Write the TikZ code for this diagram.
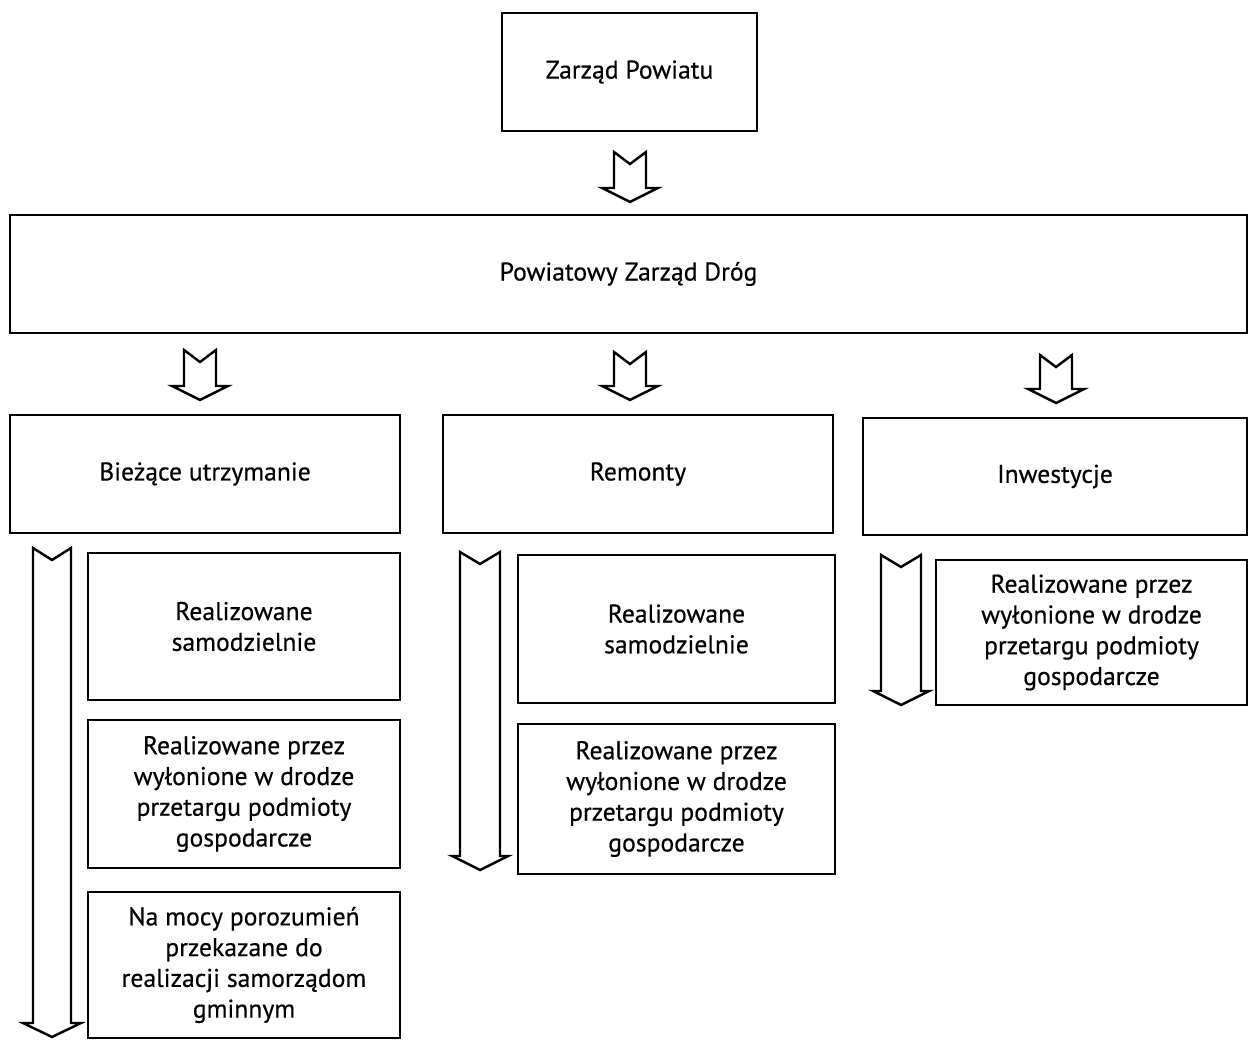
\documentclass[tikz,border=0pt]{standalone}
\usepackage{fontspec}
\setmainfont{PT Sans}
\newfontfamily\boxfont{PT Sans}[FakeBold=0.5]
\usepackage{tikz}
\usetikzlibrary{positioning,calc}

% block arrow: x centre, top, bottom, half shaft, half head
\newcommand{\blockarr}[5]{%
  \draw[blockline] ({#1-#4},#2) -- (#1,{#2+12}) -- ({#1+#4},#2)
    -- ({#1+#4},{#3-14}) -- ({#1+#5},{#3-14}) -- (#1,#3)
    -- ({#1-#5},{#3-14}) -- ({#1-#4},{#3-14}) -- cycle;}

\begin{document}
\begin{tikzpicture}[x=0.02cm, y=-0.02cm,
    box/.style={draw, line width=1pt, align=center, inner sep=2pt,
        font=\boxfont\fontsize{14.6}{17.5}\selectfont},
    blockline/.style={line width=1.4pt, line join=miter, fill=white}]
    \useasboundingbox (0,0) rectangle (1249,1040);

    % top levels
    \node[box, minimum width=5.1cm, minimum height=2.36cm] (zp) at (629.5,72) {Zarząd Powiatu};
    \node[box, minimum width=24.74cm, minimum height=2.36cm] (pzd) at (628.5,274) {Powiatowy Zarząd Dróg};

    % departments
    \node[box, minimum width=7.8cm, minimum height=2.36cm] (bu) at (205,474) {Bieżące utrzymanie};
    \node[box, minimum width=7.8cm, minimum height=2.36cm] (rem) at (638,474) {Remonty};
    \node[box, minimum width=7.68cm, minimum height=2.34cm] (inw) at (1055,476.5) {Inwestycje};

    % ways of doing it
    \node[box, minimum width=6.24cm, minimum height=2.94cm] (bu1) at (244,626.5) {Realizowane\\samodzielnie};
    \node[box, minimum width=6.24cm, minimum height=2.96cm] (bu2) at (244,794) {Realizowane przez\\wyłonione w drodze\\przetargu podmioty\\gospodarcze};
    \node[box, minimum width=6.24cm, minimum height=2.92cm] (bu3) at (244,965) {Na mocy porozumień\\przekazane do\\realizacji samorządom\\gminnym};
    \node[box, minimum width=6.34cm, minimum height=2.96cm] (rem1) at (676.5,629) {Realizowane\\samodzielnie};
    \node[box, minimum width=6.34cm, minimum height=3.0cm] (rem2) at (676.5,799) {Realizowane przez\\wyłonione w drodze\\przetargu podmioty\\gospodarcze};
    \node[box, minimum width=6.22cm, minimum height=2.9cm] (inw1) at (1091.5,632.5) {Realizowane przez\\wyłonione w drodze\\przetargu podmioty\\gospodarcze};

    % short arrows
    \blockarr{630}{152}{202}{16}{28}
    \foreach \xc/\yt/\yb in {200/350/400, 630/352/400, 1056/355/403} {
        \blockarr{\xc}{\yt}{\yb}{16}{28}
    }

    % long arrows
    \blockarr{52}{548}{1037}{19}{29}
    \blockarr{480}{552}{870}{20}{28}
    \blockarr{901}{555}{705}{20}{28}
\end{tikzpicture}
\end{document}
